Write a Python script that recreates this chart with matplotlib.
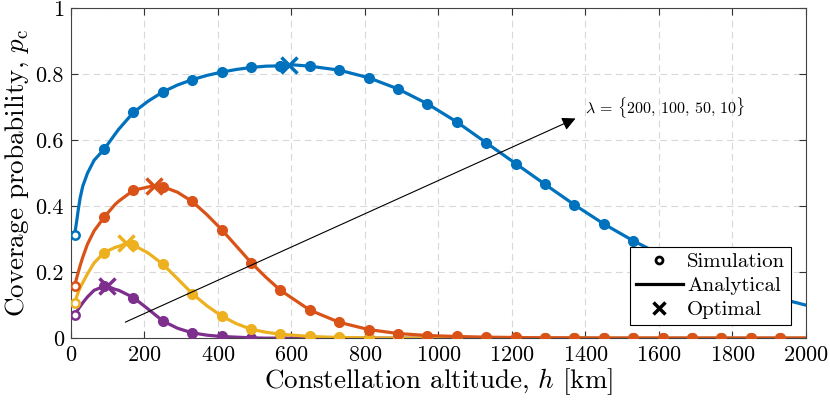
import numpy as np
import matplotlib
matplotlib.use("Agg")
import matplotlib.pyplot as plt
from matplotlib.lines import Line2D

plt.rcParams['font.family'] = 'cmr10'
plt.rcParams['mathtext.fontset'] = 'cm'
plt.rcParams['axes.formatter.use_mathtext'] = True

# simulation altitudes [km]
h_sim = np.arange(10, 1931, 80)

# simulated coverage probability, lambda = 200, 100, 50, 10
pc_200 = [0.314, 0.572, 0.684, 0.746, 0.783, 0.806, 0.820, 0.825, 0.824, 0.812,
          0.789, 0.755, 0.710, 0.655, 0.592, 0.529, 0.466, 0.404, 0.346, 0.295,
          0.250, 0.210, 0.175, 0.145, 0.120]
pc_100 = [0.158, 0.366, 0.448, 0.459, 0.414, 0.329, 0.229, 0.145, 0.085, 0.048,
          0.026, 0.014, 0.008, 0.005, 0.003, 0.002, 0.001, 0.001, 0.0, 0.0,
          0.0, 0.0, 0.0, 0.0, 0.0]
pc_50 = [0.107, 0.259, 0.282, 0.224, 0.135, 0.067, 0.027, 0.012, 0.005, 0.002,
         0.001, 0.0, 0.0, 0.0, 0.0, 0.0, 0.0, 0.0, 0.0, 0.0,
         0.0, 0.0, 0.0, 0.0, 0.0]
pc_10 = [0.070, 0.157, 0.123, 0.052, 0.016, 0.005, 0.001, 0.0, 0.0, 0.0,
         0.0, 0.0, 0.0, 0.0, 0.0, 0.0, 0.0, 0.0, 0.0, 0.0,
         0.0, 0.0, 0.0, 0.0, 0.0]

# extra analytical points
h_extra = [15, 20, 25, 32, 45, 63, 120, 130, 210, 290, 370, 450, 530, 2000]
ana_200 = [0.350, 0.390, 0.425, 0.460, 0.500, 0.539, 0.618, 0.633, 0.718,
           0.767, 0.796, 0.814, 0.824, 0.100]
ana_100 = [0.180, 0.200, 0.220, 0.245, 0.285, 0.325, 0.405, 0.415, 0.458,
           0.442, 0.374, 0.279, 0.185, 0.0]
ana_50 = [0.124, 0.140, 0.153, 0.168, 0.195, 0.228, 0.275, 0.278, 0.258,
          0.180, 0.098, 0.044, 0.018, 0.0]
ana_10 = [0.079, 0.088, 0.096, 0.107, 0.125, 0.145, 0.148, 0.145, 0.088,
          0.030, 0.009, 0.003, 0.0, 0.0]

# optimal altitude and coverage
h_opt = [593, 227, 151, 97]
pc_opt = [0.829, 0.462, 0.287, 0.158]

colors = ['#0072BD', '#D95319', '#EDB120', '#7E2F8E']
sims = [pc_200, pc_100, pc_50, pc_10]
extras = [ana_200, ana_100, ana_50, ana_10]

fig = plt.figure(figsize=(8.3, 4.04), dpi=100)
ax = fig.add_axes([0.0855, 0.163, 0.8855, 0.817])

for i in [3, 2, 1, 0]:
    c = colors[i]
    hh = np.concatenate([h_sim, h_extra, [h_opt[i]]])
    pp = np.concatenate([sims[i], extras[i], [pc_opt[i]]])
    order = np.argsort(hh)
    ax.plot(hh[order], pp[order], '-', color=c, lw=2.3, zorder=2,
            solid_joinstyle='round')
    ax.plot(h_sim[1:], sims[i][1:], 'o', color=c, ms=7, zorder=3)
    ax.plot(h_sim[:1], sims[i][:1], 'o', color=c, mfc='white', mew=1.8, ms=6, zorder=3)
    ax.plot(h_opt[i], pc_opt[i], 'x', color=c, ms=11, mew=2.5, zorder=4)

ax.annotate('', xy=(1380, 0.669), xytext=(141, 0.045),
            arrowprops=dict(arrowstyle='-|>', color='black', lw=0.8,
                            mutation_scale=20), zorder=5)
ax.text(1400, 0.70, r'$\lambda$ = $\{$200, 100, 50, 10$\}$', fontsize=11.5,
        va='center', ha='left')

ax.set_xlim(0, 2000)
ax.set_ylim(0, 1)
ax.set_xticks(np.arange(0, 2001, 200))
ax.set_yticks([0, 0.2, 0.4, 0.6, 0.8, 1])
ax.set_yticklabels(['0', '0.2', '0.4', '0.6', '0.8', '1'])
ax.tick_params(direction='in', top=True, right=True, labelsize=16, length=5,
               color='#333333', pad=5)
ax.grid(True, ls=(0, (6, 4)), color='#d8d8d8', lw=0.8)
ax.set_axisbelow(True)
for s in ax.spines.values():
    s.set_color('#444444')
    s.set_linewidth(0.8)

ax.set_xlabel('Constellation altitude, $h$ [km]', fontsize=19.5, labelpad=1)
ax.set_ylabel(r'Coverage probability, $p_\mathrm{c}$', fontsize=19.5, labelpad=3)

handles = [
    Line2D([], [], ls='none', marker='o', color='black', mfc='white', ms=5, mew=2),
    Line2D([], [], ls='-', color='black', lw=2.3),
    Line2D([], [], ls='none', marker='x', color='black', ms=9, mew=2.5),
]
leg = ax.legend(handles, ['Simulation', 'Analytical', 'Optimal'],
                loc='lower right', bbox_to_anchor=(0.98, 0.039),
                borderaxespad=0, fontsize=15, fancybox=False, framealpha=1,
                edgecolor='black', handlelength=2.25, labelspacing=0.25,
                handletextpad=0.2, borderpad=0.3)
leg.get_frame().set_linewidth(0.8)
leg.set_zorder(10)

fig.savefig('out.png', dpi=100)
